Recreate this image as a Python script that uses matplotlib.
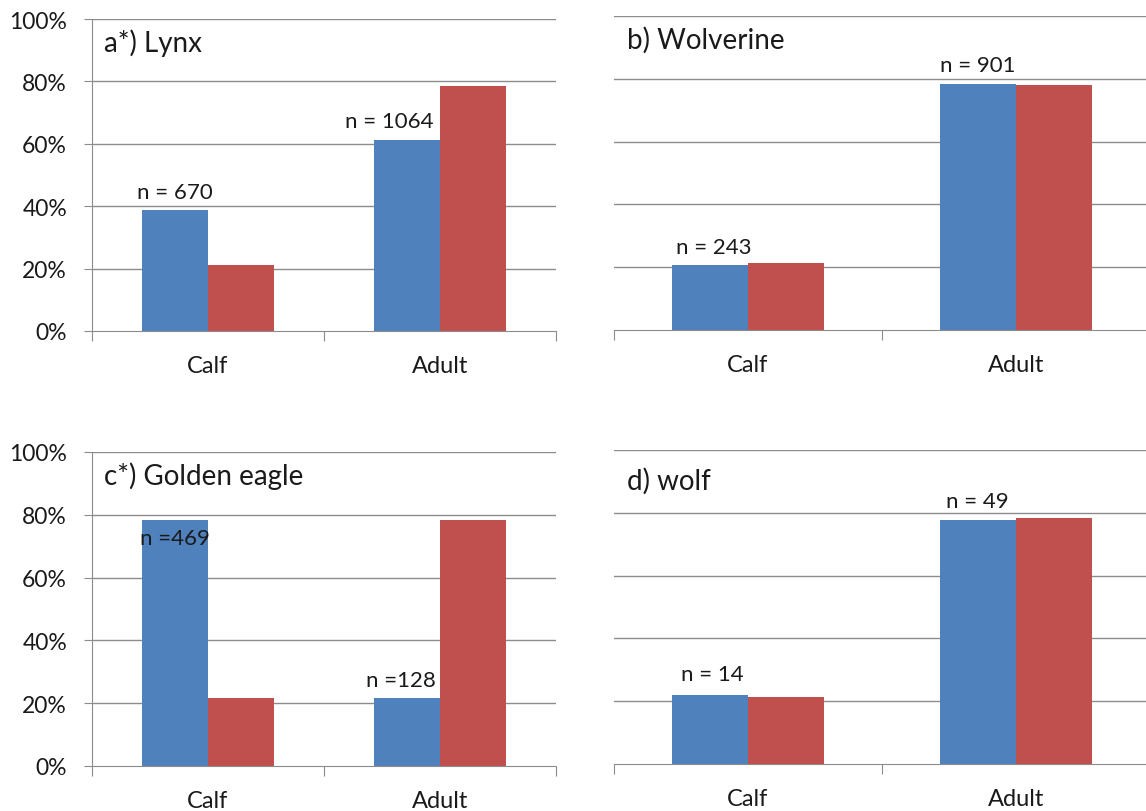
import matplotlib.pyplot as plt
import numpy as np

plt.rcParams['font.family'] = ['Lato', 'DejaVu Sans']

categories = ['Calf', 'Adult']
titles = ['a*) Lynx', 'b) Wolverine', 'c*) Golden eagle', 'd) wolf']
blue_vals = [[38.8, 61.2], [20.8, 78.3], [78.5, 21.5], [22.1, 77.7]]
red_vals = [[21.3, 78.5], [21.3, 78.0], [21.5, 78.5], [21.2, 78.2]]
n_labels = [['n = 670', 'n = 1064'], ['n = 243', 'n = 901'],
            ['n =469', 'n =128'], ['n = 14', 'n = 49']]
y_ticks = [0, 20, 40, 60, 80, 100]

# label offsets (points) from the top of the blue bar
label_offsets = [[(0, 13), (-13, 14)], [(3, 13), (0, 14)],
                 [(0, -13), (-4, 13)], [(2, 15), (0, 14)]]

blue = '#4F81BD'
red = '#C0504D'
grey = '#8c8c8c'
txt = '#1a1a1a'

W, H = 1146, 812
fig = plt.figure(figsize=(W / 100, H / 100), dpi=100)

# panel boxes in pixels: left, top, right, bottom
boxes = [(92, 20, 556, 332), (614, 17, 1150, 331),
         (92, 453, 556, 767), (614, 451, 1150, 765)]

x = np.arange(len(categories))
bw = 0.285

for i, (l, t, r, b) in enumerate(boxes):
    ax = fig.add_axes([l / W, 1 - b / H, (r - l) / W, (b - t) / H])
    ax.bar(x - bw / 2, blue_vals[i], bw, color=blue, zorder=3)
    ax.bar(x + bw / 2, red_vals[i], bw, color=red, zorder=3)
    ax.set_xlim(-0.5, 1.5)
    ax.set_ylim(0, 100)

    for yv in y_ticks[1:]:
        ax.axhline(yv, color=grey, lw=1.0, zorder=1)

    for s in ['top', 'right']:
        ax.spines[s].set_visible(False)
    ax.spines['bottom'].set_color(grey)
    ax.spines['left'].set_color(grey)
    ax.spines['bottom'].set_zorder(4)

    ax.set_xticks([-0.5, 0.5, 1.5])
    ax.set_xticklabels([])
    ax.set_xticks(x, minor=True)
    ax.set_xticklabels(categories, minor=True, fontsize=17, color=txt)
    ax.tick_params(axis='x', which='major', length=7, color=grey, direction='out')
    ax.tick_params(axis='x', which='minor', length=0, pad=17)

    if i % 2 == 0:
        ax.set_yticks(y_ticks)
        ax.set_yticklabels([f'{v}%' for v in y_ticks], fontsize=16.5, color=txt)
        ax.tick_params(axis='y', length=6, color=grey, pad=12)
    else:
        ax.spines['left'].set_visible(False)
        ax.set_yticks([])

    ax.text(0.025, 0.925 if i != 3 else 0.905, titles[i], transform=ax.transAxes,
            fontsize=20, color=txt, ha='left', va='center')

    for j in range(len(categories)):
        dx, dy = label_offsets[i][j]
        ax.annotate(n_labels[i][j], (x[j] - bw / 2, blue_vals[i][j]),
                    xytext=(dx, dy), textcoords='offset points',
                    ha='center', va='center', fontsize=16, color=txt, zorder=5)

fig.savefig('out.png', dpi=100)
